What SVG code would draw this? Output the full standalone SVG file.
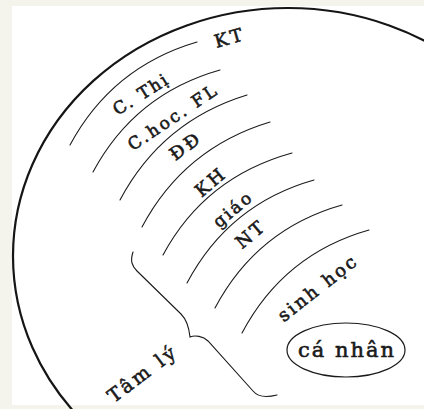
<svg xmlns="http://www.w3.org/2000/svg" width="424" height="409" viewBox="0 0 424 409">
<style>
.ln{fill:none;stroke:#1a1a1a;stroke-width:1.1;stroke-linecap:round}
.lb{font-family:"DejaVu Serif","Liberation Serif",serif;fill:#1a1a1a;text-anchor:middle;stroke:#1a1a1a;stroke-width:0.6}
</style>
<rect x="0" y="0" width="424" height="409" fill="#f4f4ec"/>
<rect x="12" y="6" width="412" height="399" fill="#ffffff"/>
<g id="outline">
<ellipse cx="288" cy="256" rx="275" ry="248" fill="none" stroke="#151515" stroke-width="2.2"/>
</g>
<g id="connectors">
<path class="ln" d="M70,145 Q112,67 197,42"/>
<path class="ln" d="M93,172 Q135,94 220,70"/>
<path class="ln" d="M120,200 Q162,121 247,95"/>
<path class="ln" d="M142,227 Q184,148 270,122"/>
<path class="ln" d="M163,255 Q205,177 292,153"/>
<path class="ln" d="M187,283 Q229,204 314,180"/>
<path class="ln" d="M215,308 Q257,229 342,205"/>
<path class="ln" d="M242,333 Q284,254 369,230"/>
<path id="brace" class="ln" stroke-width="1.6" d="M133,252 C130,261 132,266 137,271 L181,314 C187,320 189,327 190,337 C195,335 203,336 208,341 L253,391 C257,396 265,398 277,395"/>
</g>
<g id="n-kt"><text class="lb" font-size="18" letter-spacing="3" transform="translate(230,38) rotate(-16)" y="6">KT</text></g>
<g id="n-cthi"><text class="lb" font-size="17" letter-spacing="2" transform="translate(141,94) rotate(-32)" y="6">C. Thị</text></g>
<g id="n-choc"><text class="lb" font-size="17" letter-spacing="2.5" transform="translate(173,117) rotate(-34)" y="6">C.hoc. FL</text></g>
<g id="n-dd"><text class="lb" font-size="18" letter-spacing="3" transform="translate(186,146) rotate(-36)" y="6">ĐĐ</text></g>
<g id="n-kh"><text class="lb" font-size="18" letter-spacing="3" transform="translate(211,182) rotate(-40)" y="6">KH</text></g>
<g id="n-giao"><text class="lb" font-size="17" letter-spacing="2.5" transform="translate(233,209) rotate(-40)" y="6">giáo</text></g>
<g id="n-nt"><text class="lb" font-size="18" letter-spacing="3" transform="translate(251,234) rotate(-40)" y="6">NT</text></g>
<g id="n-sinhhoc"><text class="lb" font-size="18" letter-spacing="2.5" transform="translate(318,288) rotate(-38)" y="6">sinh học</text></g>
<g id="n-tamly"><text class="lb" font-size="19" letter-spacing="3" transform="translate(143,374) rotate(-37)" y="6">Tâm lý</text></g>
<g id="n-canhan">
<ellipse cx="346" cy="350" rx="59" ry="27" fill="none" stroke="#1a1a1a" stroke-width="1.2"/>
<text class="lb" font-size="21" letter-spacing="2" x="347" y="357">cá nhân</text>
</g>
</svg>
